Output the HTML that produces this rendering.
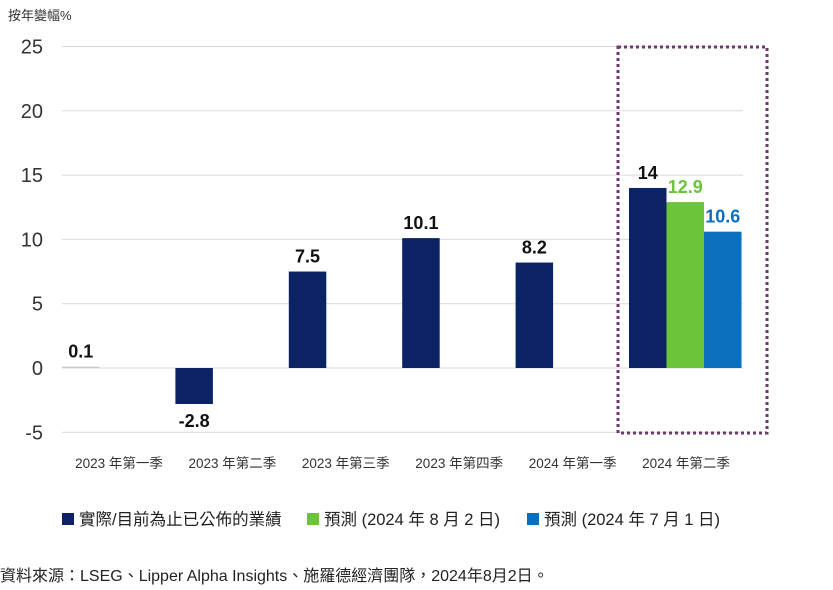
<!DOCTYPE html>
<html><head><meta charset="utf-8"><style>
body{margin:0;background:#fff;font-family:"Liberation Sans","Noto Sans CJK TC",sans-serif;}
#wrap{position:relative;width:833px;height:590px;overflow:hidden;}
</style></head><body>
<div id="wrap">
<svg id="svg" width="833" height="590" xmlns="http://www.w3.org/2000/svg"></svg>
</div>
<script>
const categories=["2023 年第一季","2023 年第二季","2023 年第三季","2023 年第四季","2024 年第一季","2024 年第二季"];
const actual=[0.1,-2.8,7.5,10.1,8.2,14];
const forecastAug=[null,null,null,null,null,12.9];
const forecastJul=[null,null,null,null,null,10.6];
const yTicks=[25,20,15,10,5,0,-5];
const NS="http://www.w3.org/2000/svg";
const svg=document.getElementById('svg');
function y(v){return 368-v*12.86;}
function xStart(i){return 62+i*113.4;}
const BW=37.5;
function mk(tag,attrs,text){const e=document.createElementNS(NS,tag);for(const k in attrs)e.setAttribute(k,attrs[k]);if(text!==undefined)e.textContent=text;svg.appendChild(e);return e;}
let t=mk('text',{x:8,y:20,'font-size':13,fill:'#333'},'按年變幅%');


yTicks.forEach(v=>{
  let l=mk('line',{x1:62,x2:743,y1:y(v),y2:y(v),stroke:'#d9d9d9','stroke-width':1});
  
  
  let tx=mk('text',{x:43,y:y(v)+7,'font-size':20,fill:'#333','text-anchor':'end'},String(v));
  
  
});
function bar(x,v,color,label,lc,name){
  const top=Math.min(y(v),y(0)),h=Math.max(Math.abs(y(v)-y(0)),1);
  let r=mk('rect',{x:x,y:top,width:BW,height:h,fill:color});
  
  
  const ly=v>=0?y(v)-9:y(v)+23;
  let tx=mk('text',{x:x+BW/2,y:ly,'font-size':18,'font-weight':'bold',fill:lc,'text-anchor':'middle'},label);
  
  
}
categories.forEach((c,i)=>{
  const xs=xStart(i);
  bar(xs,actual[i],actual[i]<1&&actual[i]>0?'#c8c8c8':'#0b2265',String(actual[i]),'#111','bar-actual');
  if(forecastAug[i]!==null)bar(xs+BW,forecastAug[i],'#6cc43a',String(forecastAug[i]),'#6cc43a','bar-forecast-aug');
  if(forecastJul[i]!==null)bar(xs+2*BW,forecastJul[i],'#0a6fbf',String(forecastJul[i]),'#0a6fbf','bar-forecast-jul');
  let tx=mk('text',{x:xs+57,y:468,'font-size':13.5,fill:'#333','text-anchor':'middle'},c);
  
  
});
let box=mk('rect',{x:618,y:47,width:149,height:386,fill:'none',stroke:'#6b3a6b','stroke-width':3,'stroke-dasharray':'3,3'});


const leg=[["#0b2265","實際/目前為止已公佈的業績",62],["#6cc43a","預測 (2024 年 8 月 2 日)",307],["#0a6fbf","預測 (2024 年 7 月 1 日)",527]];
leg.forEach(l=>{
  let r=mk('rect',{x:l[2],y:513,width:12,height:12,fill:l[0]});
  
  
  let tx=mk('text',{x:l[2]+17,y:525,'font-size':16.5,fill:'#222'},l[1]);
  
  
});
let src=mk('text',{x:0,y:581,'font-size':16,fill:'#222'},'資料來源：LSEG、Lipper Alpha Insights、施羅德經濟團隊，2024年8月2日。');


</script>
</body></html>
